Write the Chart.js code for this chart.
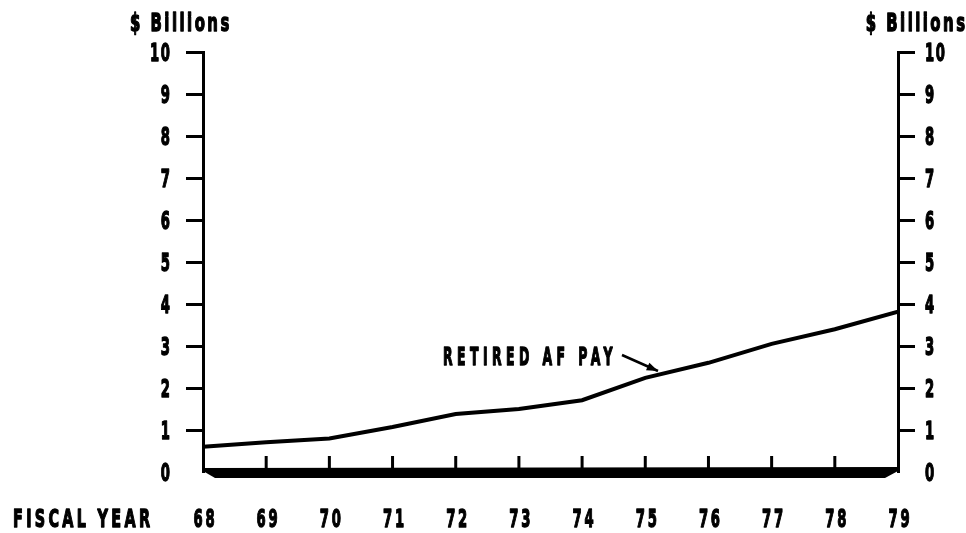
<!DOCTYPE html>
<html>
<head>
<meta charset="utf-8">
<script src="https://cdn.jsdelivr.net/npm/chart.js@4.4.1/dist/chart.umd.min.js"></script>
<style>
    body { margin: 0; background: #fff; }
    canvas { display: block; }
</style>
</head>
<body>
<canvas id="chart" width="966" height="533"></canvas>
<script>
const years = [68, 69, 70, 71, 72, 73, 74, 75, 76, 77, 78, 79]
const retiredPay = [0.6, 0.71, 0.8, 1.07, 1.38, 1.5, 1.71, 2.24, 2.6, 3.05, 3.4, 3.82]
const yTicks = [0, 1, 2, 3, 4, 5, 6, 7, 8, 9, 10]

const FAMILY = '"DejaVu Sans", "Liberation Sans", sans-serif'

// no condensed face is installed, so squeeze the bold face horizontally
function squeezed(ctx, text, x, y, align, size, sx, spacing) {
    ctx.save()
    ctx.font = 'bold ' + size + 'px ' + FAMILY
    ctx.letterSpacing = spacing + 'px'
    ctx.textBaseline = 'alphabetic'
    ctx.textAlign = 'left'
    let w = (ctx.measureText(text).width - spacing) * sx
    let left = align === 'right' ? x - w : align === 'center' ? x - w / 2 : x
    ctx.translate(left, y)
    ctx.scale(sx, 1)
    ctx.fillStyle = '#000'
    ctx.strokeStyle = '#000'
    ctx.lineWidth = 1.4
    ctx.lineJoin = 'round'
    ctx.fillText(text, 0, 0)
    ctx.strokeText(text, 0, 0)
    ctx.restore()
}

const decor = {
    id: 'decor',
    afterDatasetsDraw(chart) {
        const ctx = chart.ctx
        const xs = chart.scales.x
        const ys = chart.scales.y
        const x0 = xs.getPixelForValue(years[0])
        const x1 = xs.getPixelForValue(years[years.length - 1])
        const y0 = ys.getPixelForValue(0)
        ctx.save()
        ctx.fillStyle = '#000'
        // thick base bar with bevelled ends
        ctx.beginPath()
        ctx.moveTo(x0, y0 - 4)
        ctx.lineTo(x1, y0 - 5)
        ctx.lineTo(x1, y0 - 1)
        ctx.lineTo(x1 - 13, y0 + 6)
        ctx.lineTo(x0 + 12, y0 + 6)
        ctx.lineTo(x0, y0 - 1)
        ctx.closePath()
        ctx.fill()

        // year ticks pointing up from the bar
        ctx.strokeStyle = '#000'
        ctx.lineWidth = 3
        years.slice(1, -1).forEach(v => {
            const x = xs.getPixelForValue(v)
            ctx.beginPath()
            ctx.moveTo(x, y0 - 3)
            ctx.lineTo(x, y0 - 16)
            ctx.stroke()
        })

        // tick labels
        ys.ticks.forEach(t => {
            const y = ys.getPixelForValue(t.value) + 9
            squeezed(ctx, String(t.value), 170, y, 'right', 24, 0.55, 3)
            squeezed(ctx, String(t.value), 925, y, 'left', 24, 0.55, 3)
        })
        xs.ticks.forEach(t => {
            const x = xs.getPixelForValue(t.value) + 1
            squeezed(ctx, String(t.value), x, 527, 'center', 24, 0.55, 5)
        })

        squeezed(ctx, '$ Billions', 130, 31, 'left', 24, 0.62, 4)
        squeezed(ctx, '$ Billions', 965, 31, 'right', 24, 0.62, 4)
        squeezed(ctx, 'FISCAL YEAR', 13, 527, 'left', 24, 0.6, 5.5)

        // label pointing at the line
        squeezed(ctx, 'RETIRED AF PAY', 443, 365, 'left', 24, 0.52, 8.5)
        const ax = 622, ay = 355, bx = 658, by = 371
        ctx.lineWidth = 2.5
        ctx.beginPath()
        ctx.moveTo(ax, ay)
        ctx.lineTo(bx, by)
        ctx.stroke()
        const ang = Math.atan2(by - ay, bx - ax)
        ctx.beginPath()
        ctx.moveTo(bx, by)
        ctx.lineTo(bx - 12 * Math.cos(ang - 0.35), by - 12 * Math.sin(ang - 0.35))
        ctx.lineTo(bx - 12 * Math.cos(ang + 0.35), by - 12 * Math.sin(ang + 0.35))
        ctx.closePath()
        ctx.fill()
        ctx.restore()
    }
}

const yAxis = (position, width) => ({
    type: 'linear',
    position: position,
    min: 0,
    max: 10,
    afterBuildTicks: s => { s.ticks = yTicks.map(v => ({value: v})) },
    afterFit: s => { s.width = width },
    grid: {
        drawOnChartArea: false,
        tickLength: 17,
        tickWidth: 3,
        color: c => c.tick && c.tick.value === 0 ? 'rgba(0,0,0,0)' : '#000'
    },
    border: {display: true, color: '#000', width: 3},
    ticks: {display: false}
})

let ctx = document.getElementById('chart')
let chart = new Chart(ctx, {
    type: 'line',
    data: {
        datasets: [{
            label: 'Retired AF Pay',
            data: years.map((x, i) => ({x: x, y: retiredPay[i]})),
            borderColor: '#000',
            borderWidth: 4,
            pointRadius: 0,
            tension: 0,
            fill: false
        }]
    },
    options: {
        responsive: false,
        animation: false,
        layout: {padding: {top: 52, left: 0, right: 0, bottom: 0}},
        plugins: {
            legend: {display: false},
            tooltip: {enabled: false}
        },
        scales: {
            x: {
                type: 'linear',
                position: 'bottom',
                min: 68,
                max: 79,
                afterBuildTicks: s => { s.ticks = years.map(v => ({value: v})) },
                afterFit: s => { s.height = 61 },
                grid: {display: false},
                border: {display: false},
                ticks: {display: false}
            },
            y: yAxis('left', 203),
            y2: yAxis('right', 68)
        }
    },
    plugins: [decor]
})
</script>
</body>
</html>
